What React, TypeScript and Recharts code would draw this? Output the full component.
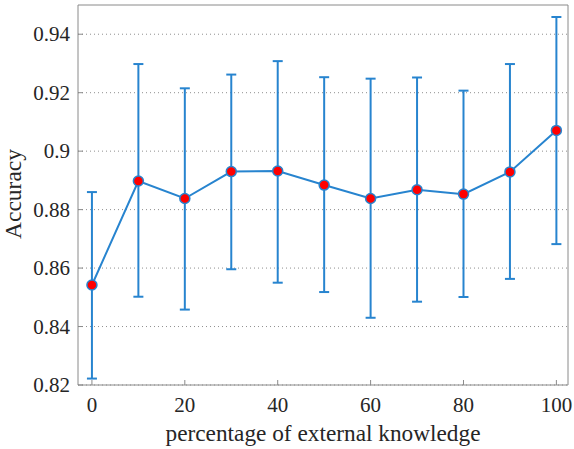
import React from 'react';
import { ComposedChart, Line, XAxis, YAxis, CartesianGrid, ErrorBar, Customized } from 'recharts';

const percentages = [0, 10, 20, 30, 40, 50, 60, 70, 80, 90, 100];
const meanAcc = [0.8542, 0.8898, 0.8838, 0.8930, 0.8932, 0.8884, 0.8838, 0.8868, 0.8853, 0.8929, 0.9071];
const upperAcc = [0.8860, 0.9298, 0.9215, 0.9262, 0.9308, 0.9253, 0.9248, 0.9252, 0.9207, 0.9298, 0.9459];
const lowerAcc = [0.8222, 0.8502, 0.8458, 0.8596, 0.8550, 0.8518, 0.8430, 0.8485, 0.8501, 0.8563, 0.8682];
const xTicks = [0, 20, 40, 60, 80, 100];
const yTicks = [0.82, 0.84, 0.86, 0.88, 0.9, 0.92, 0.94];

const data = percentages.map((p, i) => ({
  x: p,
  y: meanAcc[i],
  err: [meanAcc[i] - lowerAcc[i], upperAcc[i] - meanAcc[i]],
}));

const BLUE = '#2784cf';
const AXIS = '#8a8a8a';
const TEXT = '#262626';
const FONT = '"Liberation Serif", "Times New Roman", serif';

const fmt = (v: number) => String(Number(v.toFixed(2)));

const Dot = (props: any) => {
  const { cx, cy } = props;
  if (cx == null || cy == null) return null;
  return <circle cx={cx} cy={cy} r={5} fill="#ff0000" stroke={BLUE} strokeWidth={1.5} />;
};

const XTick = (props: any) => {
  const { x, y, payload } = props;
  return (
    <text x={x} y={y} dy={15} textAnchor="middle" fill={TEXT} style={{ fontFamily: FONT, fontSize: 21 }}>
      {fmt(payload.value)}
    </text>
  );
};

const YTick = (props: any) => {
  const { x, y, payload } = props;
  return (
    <text x={x} y={y} dy={7} textAnchor="end" fill={TEXT} style={{ fontFamily: FONT, fontSize: 21 }}>
      {fmt(payload.value)}
    </text>
  );
};

const Labels = () => (
  <g>
    <text x={323} y={441} textAnchor="middle" fill={TEXT} style={{ fontFamily: FONT, fontSize: 23.3 }}>
      percentage of external knowledge
    </text>
    <text x={21} y={194} textAnchor="middle" transform="rotate(-90 21 194)" fill={TEXT} style={{ fontFamily: FONT, fontSize: 23.5 }}>
      Accuracy
    </text>
  </g>
);

export default function App() {
  return (
    <div style={{ position: 'absolute', left: 0, top: 0, background: '#fff' }}>
      <ComposedChart width={574} height={449} data={data} margin={{ top: 4, right: 5, bottom: 4, left: 0 }}>
        <CartesianGrid horizontal vertical={false} stroke="#8f8f8f" strokeDasharray="1 3" horizontalValues={yTicks} yAxisId="l" xAxisId="b" />
        <XAxis
          xAxisId="b"
          dataKey="x"
          type="number"
          domain={[-3, 102.5]}
          ticks={xTicks}
          allowDataOverflow
          height={60}
          tickSize={-5}
          tickMargin={17}
          stroke={AXIS}
          tick={<XTick />}
        />
        <XAxis
          xAxisId="t"
          orientation="top"
          dataKey="x"
          type="number"
          domain={[-3, 102.5]}
          ticks={xTicks}
          allowDataOverflow
          height={1}
          tickSize={-5}
          stroke={AXIS}
          tick={false}
        />
        <YAxis
          yAxisId="l"
          type="number"
          domain={[0.82, 0.95]}
          ticks={yTicks}
          allowDataOverflow
          width={78}
          tickSize={-5}
          tickMargin={13}
          stroke={AXIS}
          tick={<YTick />}
        />
        <YAxis
          yAxisId="r"
          orientation="right"
          type="number"
          domain={[0.82, 0.95]}
          ticks={yTicks}
          allowDataOverflow
          width={1}
          tickSize={-5}
          stroke={AXIS}
          tick={false}
        />
        <Line
          xAxisId="b"
          yAxisId="l"
          dataKey="y"
          type="linear"
          stroke={BLUE}
          strokeWidth={2}
          dot={<Dot />}
          activeDot={false}
          isAnimationActive={false}
        >
          <ErrorBar dataKey="err" direction="y" width={5} stroke={BLUE} strokeWidth={2} />
        </Line>
        <Customized component={Labels} />
      </ComposedChart>
    </div>
  );
}
